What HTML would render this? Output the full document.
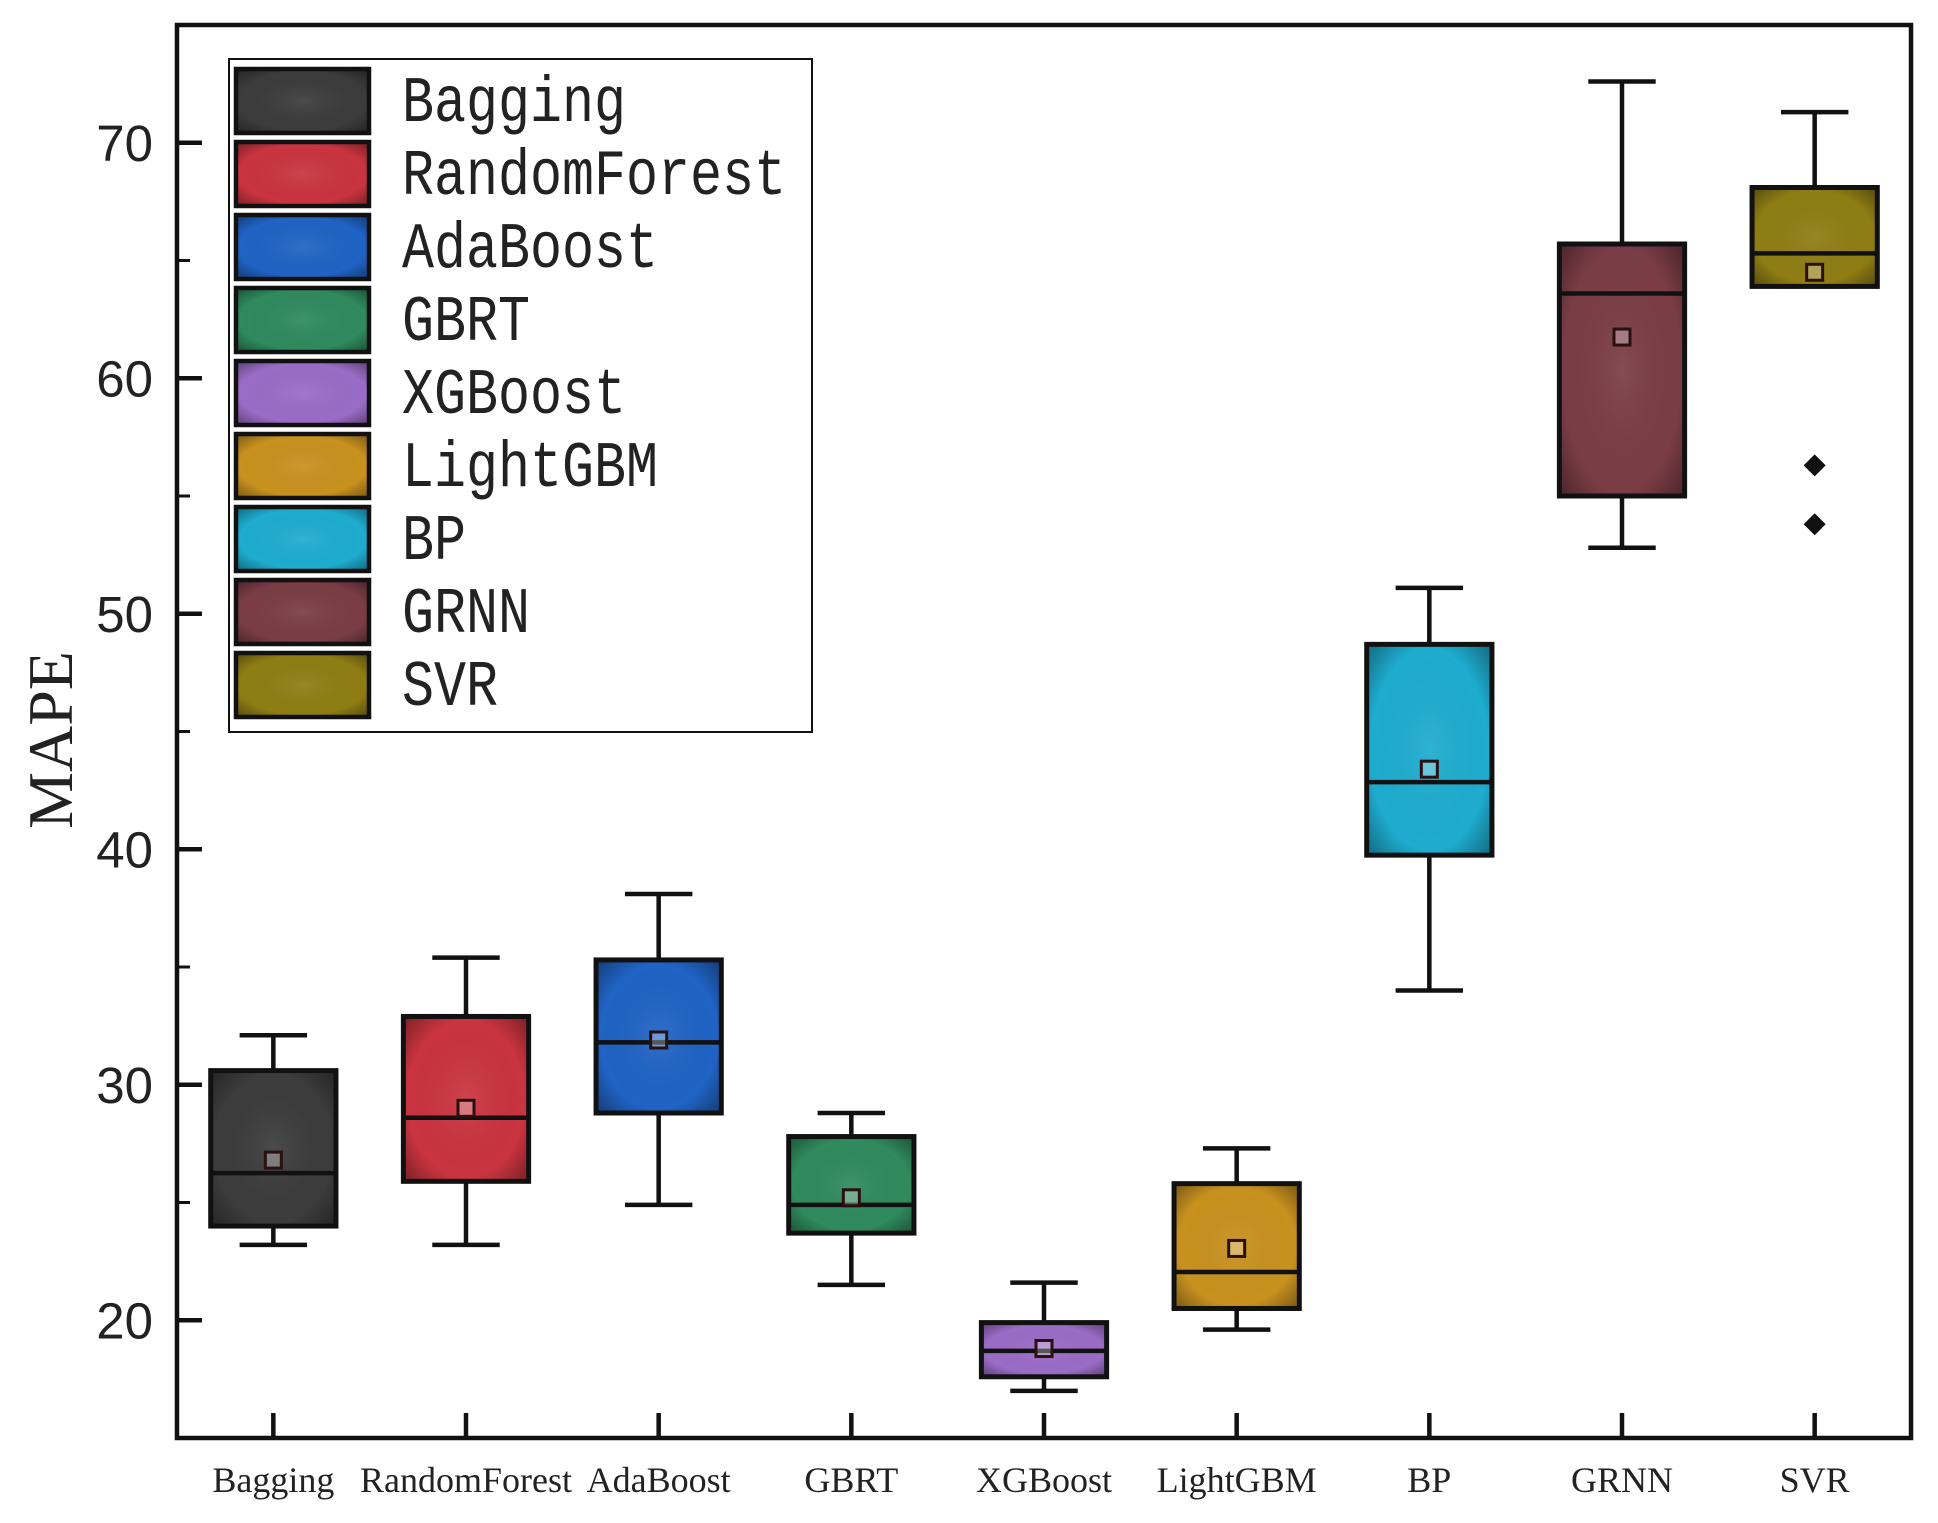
<!DOCTYPE html>
<html><head><meta charset="utf-8"><style>
html,body{margin:0;padding:0;background:#fff;}
svg{display:block;}
</style></head><body>
<svg id="chart" width="1938" height="1523" viewBox="0 0 1938 1523" xmlns="http://www.w3.org/2000/svg">
<defs>
<radialGradient id="shade" cx="50%" cy="50%" r="70%">
<stop offset="0%" stop-color="#fff" stop-opacity="0.08"/>
<stop offset="70%" stop-color="#000" stop-opacity="0"/>
<stop offset="100%" stop-color="#000" stop-opacity="0.35"/>
</radialGradient>
</defs>
<g id="plot"></g>
</svg>
<script>
const categories = ["Bagging","RandomForest","AdaBoost","GBRT","XGBoost","LightGBM","BP","GRNN","SVR"];
const colors = ["#3c3c3c","#c9343f","#2063c4","#2f8a5c","#9a6cc6","#c8911f","#1eaccf","#7b3d45","#8f7d14"];
const whiskerLow  = [23.2, 23.2, 24.9, 21.5, 17.0, 19.6, 34.0, 52.8, 63.9];
const q1          = [24.0, 25.9, 28.8, 23.7, 17.6, 20.5, 39.75, 55.0, 63.9];
const medians     = [26.25, 28.6, 31.8, 24.9, 18.7, 22.05, 42.85, 63.6, 65.3];
const q3          = [30.6, 32.9, 35.3, 27.8, 19.9, 25.8, 48.7, 65.7, 68.1];
const whiskerHigh = [32.1, 35.4, 38.1, 28.8, 21.6, 27.3, 51.1, 72.6, 71.3];
const means       = [26.8, 29.0, 31.9, 25.2, 18.8, 23.05, 43.4, 61.75, 64.5];
const outlierCat  = [8, 8];
const outlierVal  = [56.3, 53.8];
const yTicks = [20, 30, 40, 50, 60, 70];
const yMinorTicks = [25, 35, 45, 55, 65];

const NS = "http://www.w3.org/2000/svg";
const L = 177, R = 1911, T = 25, B = 1438;
const yMin = 15, yMax = 75;
const band = (R - L) / categories.length;
function xs(i){ return L + band * (i + 0.5); }
function ys(v){ return B - (v - yMin) / (yMax - yMin) * (B - T); }
const g = document.getElementById('plot');
function mk(tag, attrs, parent){
  const e = document.createElementNS(NS, tag);
  for (const k in attrs) e.setAttribute(k, attrs[k]);
  (parent || g).appendChild(e);
  return e;
}

categories.forEach((c, i) => {
  const grp = mk('g', {});
  
  
  const cx = xs(i), bw = band * 0.65, cw = band * 0.35;
  const wl = mk('line', {x1:cx, x2:cx, y1:ys(whiskerHigh[i]), y2:ys(whiskerLow[i]), stroke:'#111', 'stroke-width':4.5}, grp);
  
  
  const capT = mk('line', {x1:cx-cw/2, x2:cx+cw/2, y1:ys(whiskerHigh[i]), y2:ys(whiskerHigh[i]), stroke:'#111', 'stroke-width':4.5}, grp);
  
  
  const capB = mk('line', {x1:cx-cw/2, x2:cx+cw/2, y1:ys(whiskerLow[i]), y2:ys(whiskerLow[i]), stroke:'#111', 'stroke-width':4.5}, grp);
  
  
  const rect = mk('rect', {x:cx-bw/2, y:ys(q3[i]), width:bw, height:ys(q1[i])-ys(q3[i]), fill:colors[i], stroke:'#111', 'stroke-width':5}, grp);
  
  
  mk('rect', {x:cx-bw/2+2.5, y:ys(q3[i])+2.5, width:bw-5, height:Math.max(0,ys(q1[i])-ys(q3[i])-5), fill:'url(#shade)'}, grp);
  const med = mk('line', {x1:cx-bw/2, x2:cx+bw/2, y1:ys(medians[i]), y2:ys(medians[i]), stroke:'#111', 'stroke-width':4.5}, grp);
  
  
  const mn = mk('rect', {x:cx-8, y:ys(means[i])-8, width:16, height:16, fill:'rgba(255,255,255,0.3)', stroke:'#2a1010', 'stroke-width':3}, grp);
  
  
});
outlierVal.forEach((v, k) => {
  const cx = xs(outlierCat[k]), cy = ys(v);
  const d = mk('polygon', {points:`${cx},${cy-11} ${cx+11},${cy} ${cx},${cy+11} ${cx-11},${cy}`, fill:'#111'});
  
  
});

const frame = mk('rect', {x:L, y:T, width:R-L, height:B-T, fill:'none', stroke:'#111', 'stroke-width':4.5});



yTicks.forEach(v => {
  const t = mk('line', {x1:L, x2:L+25, y1:ys(v), y2:ys(v), stroke:'#111', 'stroke-width':4.5});
  
  
  const lb = mk('text', {x:L-24, y:ys(v)+18, 'text-anchor':'end', 'font-family':'"Liberation Sans", sans-serif', 'font-size':51, fill:'#222'});
  lb.textContent = v;
  
  
});
yMinorTicks.forEach(v => {
  const t = mk('line', {x1:L, x2:L+13, y1:ys(v), y2:ys(v), stroke:'#111', 'stroke-width':3});
  
  
});
categories.forEach((c, i) => {
  const t = mk('line', {x1:xs(i), x2:xs(i), y1:B, y2:B-25, stroke:'#111', 'stroke-width':4.5});
  
  
  const lb = mk('text', {x:xs(i), y:1492, 'text-anchor':'middle', 'font-family':'"Liberation Serif", serif', 'font-size':36, fill:'#222'});
  lb.textContent = c;
  
  
});
const yt = mk('text', {x:0, y:0, transform:'translate(72,740) rotate(-90)', 'text-anchor':'middle', 'font-family':'"Liberation Serif", serif', 'font-size':64, fill:'#222'});
yt.textContent = 'MAPE';



const lg = mk('g', {});


mk('rect', {x:229, y:59, width:583, height:673, fill:'#fff', stroke:'#111', 'stroke-width':2}, lg);
categories.forEach((c, i) => {
  const y0 = 69 + i * 73;
  const sw = mk('rect', {x:236, y:y0, width:133, height:64, fill:colors[i], stroke:'#111', 'stroke-width':4.5}, lg);
  
  
  mk('rect', {x:238, y:y0+2, width:129, height:60, fill:'url(#shade)'}, lg);
  const tx = mk('text', {x:0, y:0, transform:`translate(402,${y0+52}) scale(0.97,1.18)`, 'font-family':'"Liberation Mono", monospace', 'font-size':55, fill:'#222'}, lg);
  tx.textContent = c;
  
  
});
</script>
</body></html>
